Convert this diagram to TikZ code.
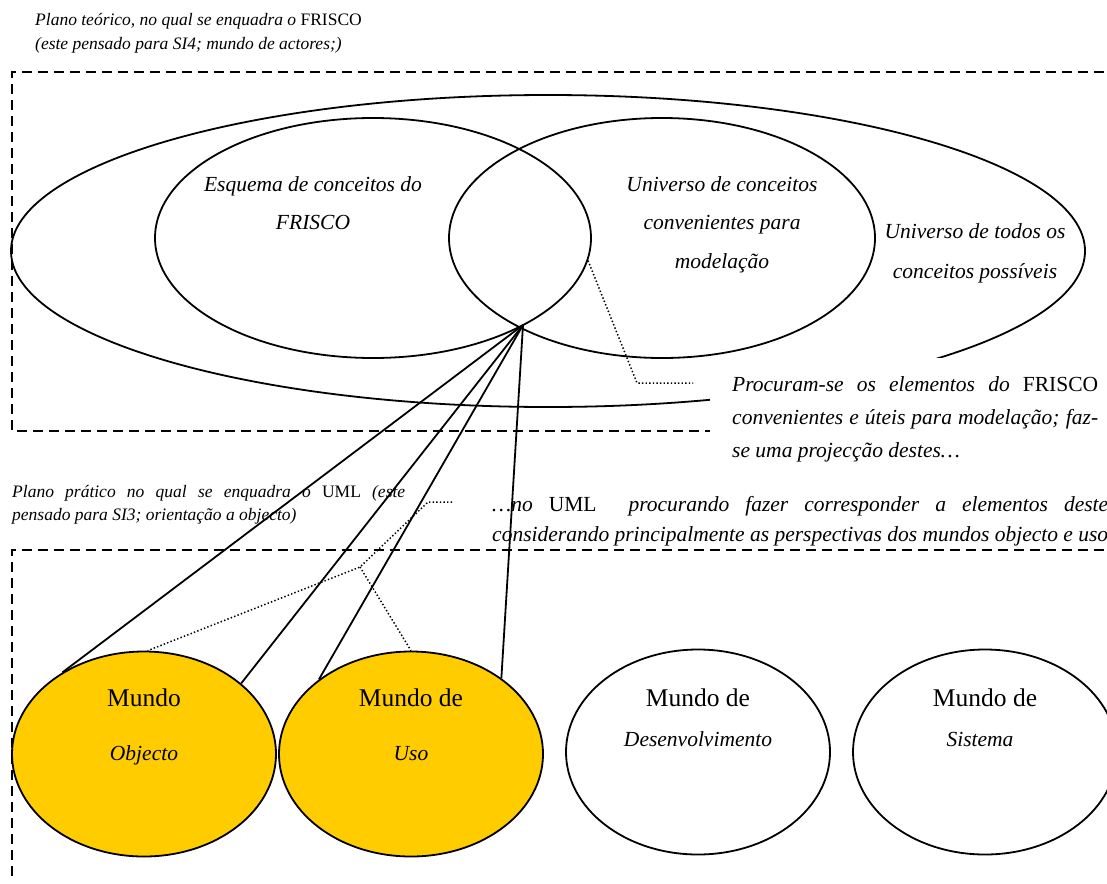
\documentclass[tikz,border=0pt]{standalone}
\usepackage{fontspec}
\setmainfont{Liberation Serif}
\usetikzlibrary{shapes.geometric}
\definecolor{mundoyellow}{HTML}{FFCC00}
\begin{document}
\begin{tikzpicture}[x=1pt,y=-1pt,
  outline/.style={draw=black, line width=1.8pt},
  region/.style={ellipse, outline, inner sep=0pt},
  world/.style={ellipse, outline, inner sep=0pt, minimum width=264pt, minimum height=205pt},
  frame/.style={draw=black, line width=1.1pt, dash pattern=on 10pt off 6pt},
  dotlink/.style={draw=black, line width=1.5pt, dash pattern=on 1.4pt off 2.2pt},
  link/.style={draw=black, line width=1.8pt},
  note/.style={font=\fontsize{17.5}{21}\selectfont\itshape, inner sep=0pt, anchor=base west},
  body/.style={font=\fontsize{21.5}{26}\selectfont\itshape, inner sep=0pt, anchor=base},
  bodyleft/.style={body, anchor=base west},
  worldname/.style={font=\fontsize{25.5}{30}\selectfont, inner sep=0pt, anchor=base},
  worldkind/.style={font=\fontsize{21.5}{26}\selectfont\itshape, inner sep=0pt, anchor=base},
]
\useasboundingbox (0,0) rectangle (1107,883);
\clip (0,0) rectangle (1107,883);

% dashed planes
\draw[frame] (1120,72) -- (12,72) -- (12,431) -- (720,431);
\draw[frame] (1120,550) -- (12,550) -- (12,877);

% theoretical plane: concept universes
\node[region, minimum width=1074pt, minimum height=312pt] (all) at (548,251) {};
\node[region, minimum width=436pt, minimum height=240pt] (esq) at (373,238) {};
\node[region, minimum width=426pt, minimum height=240pt] (conv) at (662,238) {};
\coordinate (hub) at (523,325);

\node[body] (esqA) at (313,191) {Esquema de conceitos do};
\node[body] (esqB) at (313,229) {FRISCO};
\node[body] (convA) at (722,191) {Universo de conceitos};
\node[body] (convB) at (722,229) {convenientes para};
\node[body] (convC) at (722,268) {modelação};
\node[body] (allA) at (975,238) {Universo de todos os};
\node[body] (allB) at (975,278) {conceitos possíveis};

% plane captions
\node[note] (teoA) at (35,26) {Plano teórico, no qual se enquadra o {\upshape FRISCO}};
\node[note] (teoB) at (35,50) {(este pensado para SI4; mundo de actores;)};
\node[note] (praA) at (12,497) {\makebox[393pt][s]{Plano prático no qual se enquadra o {\upshape UML} (este}};
\node[note] (praB) at (12,520) {pensado para SI3; orientação a objecto)};

% practical plane: the four worlds
\node[world, fill=mundoyellow] (obj) at (144,754) {};
\node[world, fill=mundoyellow] (uso) at (411,754) {};
\node[world] (dev) at (698,752) {};
\node[world] (sis) at (985,752) {};

\node[worldname] (objA) at (144,706) {Mundo};
\node[worldkind] (objB) at (144,760) {Objecto};
\node[worldname] (usoA) at (411,706) {Mundo de};
\node[worldkind] (usoB) at (411,760) {Uso};
\node[worldname] (devA) at (698,706) {Mundo de};
\node[worldkind] (devB) at (698,746) {Desenvolvimento};
\node[worldname] (sisA) at (985,706) {Mundo de};
\node[worldkind] (sisB) at (980,746) {Sistema};

% projection lines
\draw[link] (hub) -- (obj.135);
\draw[link] (hub) -- (obj.36);
\draw[link] (hub) -- (uso.141);
\draw[link] (hub) -- (uso.40);

% explanatory callouts
\coordinate (noteTopA) at (637,383);
\coordinate (noteTopB) at (693,383);
\draw[dotlink] (esq.-6) -- (noteTopA) -- (noteTopB);

\coordinate (noteLowA) at (452,502);
\coordinate (noteLowB) at (428,502);
\coordinate (apex) at (360,567);
\draw[dotlink] (noteLowA) -- (noteLowB) -- (apex) -- (obj.88);
\draw[dotlink] (apex) -- (uso.north);

\fill[white] (710,358) rectangle (1107,470);
\node[bodyleft] (procA) at (732,391) {\makebox[366pt][s]{Procuram-se os elementos do {\upshape FRISCO}}};
\node[bodyleft] (procB) at (732,424) {\makebox[366pt][s]{convenientes e úteis para modelação; faz-}};
\node[bodyleft] (procC) at (732,457) {se uma projecção destes…};

\node[bodyleft] (umlA) at (492,511) {\makebox[616pt][s]{…no {\upshape UML}\ \ procurando fazer corresponder a elementos deste}};
\node[bodyleft] (umlB) at (492,541) {\makebox[616pt][s]{considerando principalmente as perspectivas dos mundos objecto e uso}};
\end{tikzpicture}
\end{document}
